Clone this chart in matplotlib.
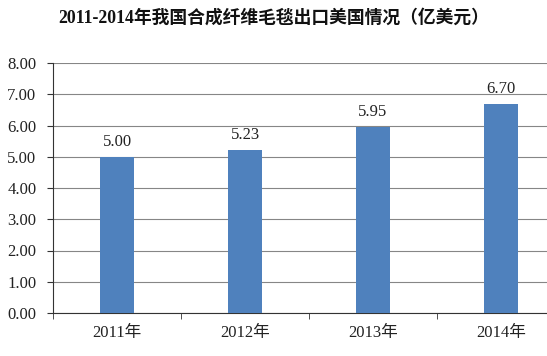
import matplotlib
matplotlib.use('Agg')
import matplotlib.pyplot as plt
import matplotlib.ticker as mticker
import numpy as np

years = ['2011年', '2012年', '2013年', '2014年']
values = [5.00, 5.23, 5.95, 6.70]
yticks = [0, 1, 2, 3, 4, 5, 6, 7, 8]

plt.rcParams['font.family'] = ['Liberation Serif', 'Noto Sans CJK SC']

fig = plt.figure(figsize=(5.47, 3.56), dpi=100)
# 右侧在原图中被裁掉，轴区域超出画布
ax = fig.add_axes([53 / 547, 43 / 356, 512 / 547, 250 / 356])

x = np.arange(len(years))
ax.bar(x, values, width=0.27, color='#4F81BD', zorder=3)
for xi, v in zip(x, values):
    ax.annotate(f'{v:.2f}', (xi, v), xytext=(0, 5), textcoords='offset points',
                ha='center', va='bottom', fontsize=12, color='#222222')

ax.set_xlim(-0.5, len(years) - 0.5)
ax.set_ylim(0, 8)
ax.set_yticks(yticks)
ax.yaxis.set_major_formatter(mticker.FormatStrFormatter('%.2f'))
ax.set_xticks(x)
ax.set_xticklabels(years)
ax.set_xticks(np.arange(-0.5, len(years)), minor=True)
ax.tick_params(axis='x', which='major', length=0, pad=9, labelsize=12, labelcolor='#222222')
ax.tick_params(axis='x', which='minor', length=4, direction='out', color='#333333')
ax.tick_params(axis='y', length=4, direction='out', color='#333333', labelsize=12, pad=8,
               labelcolor='#222222')

ax.yaxis.grid(True, color='#868686', linewidth=0.8, zorder=0)
ax.set_axisbelow(True)
for s in ['top', 'right']:
    ax.spines[s].set_visible(False)
ax.spines['left'].set_color('#333333')
ax.spines['bottom'].set_color('#333333')

fig.text(0.5, 1 - 18 / 356, '2011-2014年我国合成纤维毛毯出口美国情况（亿美元）', ha='center', va='center',
         fontsize=12.8, fontweight='bold', color='#111111')

fig.savefig('out.png', dpi=100)
